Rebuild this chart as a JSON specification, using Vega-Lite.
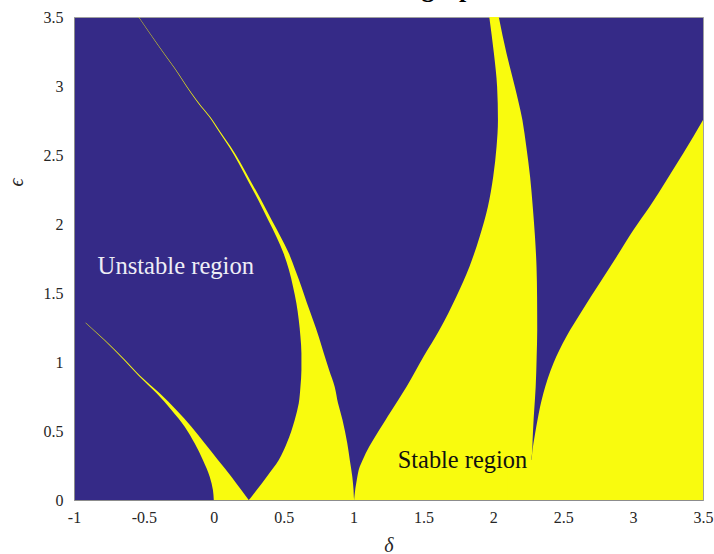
{
  "$schema": "https://vega.github.io/schema/vega-lite/v6.json",
  "width": 629,
  "height": 483,
  "autosize": {"type": "none"},
  "padding": {"left": 74, "top": 17, "right": 11, "bottom": 54},
  "background": "white",
  "title": {"text": "Mathieu graph", "font": "Liberation Serif", "fontSize": 26, "fontWeight": "bold", "color": "#000000", "frame": "group", "offset": 7.5, "dx": 16},
  "config": {
    "view": {"fill": "#352A87", "stroke": "#a0a0a0", "strokeWidth": 1},
    "axis": {"grid": false, "ticks": false, "domainColor": "#8c8c8c", "labelFont": "Liberation Serif", "labelFontSize": 16, "labelColor": "#262626", "titleFont": "Liberation Serif", "titleFontStyle": "italic", "titleFontWeight": "normal", "titleFontSize": 20, "titleColor": "#262626", "labelFlush": false, "labelOverlap": false}
  },
  "datasets": {
    "regions": [
      {"r": "A", "e": 0, "lo": 0.0, "hi": 0.25},
      {"r": "A", "e": 0.072, "lo": -0.006, "hi": 0.197},
      {"r": "A", "e": 0.169, "lo": -0.029, "hi": 0.126},
      {"r": "A", "e": 0.29, "lo": -0.078, "hi": 0.03},
      {"r": "A", "e": 0.411, "lo": -0.137, "hi": -0.065},
      {"r": "A", "e": 0.531, "lo": -0.208, "hi": -0.16},
      {"r": "A", "e": 0.652, "lo": -0.303, "hi": -0.268},
      {"r": "A", "e": 0.773, "lo": -0.409, "hi": -0.387},
      {"r": "A", "e": 0.899, "lo": -0.536, "hi": -0.525},
      {"r": "A", "e": 1.014, "lo": -0.643, "hi": -0.634},
      {"r": "A", "e": 1.159, "lo": -0.785, "hi": -0.779},
      {"r": "A", "e": 1.285, "lo": -0.919, "hi": -0.915},
      {"r": "B", "e": 0, "lo": 0.25, "hi": 1.004},
      {"r": "B", "e": 0.024, "lo": 0.27, "hi": 1.002},
      {"r": "B", "e": 0.072, "lo": 0.307, "hi": 1.0},
      {"r": "B", "e": 0.169, "lo": 0.379, "hi": 0.991},
      {"r": "B", "e": 0.29, "lo": 0.465, "hi": 0.973},
      {"r": "B", "e": 0.411, "lo": 0.522, "hi": 0.955},
      {"r": "B", "e": 0.58, "lo": 0.579, "hi": 0.921},
      {"r": "B", "e": 0.701, "lo": 0.608, "hi": 0.889},
      {"r": "B", "e": 0.821, "lo": 0.62, "hi": 0.865},
      {"r": "B", "e": 0.942, "lo": 0.627, "hi": 0.825},
      {"r": "B", "e": 1.063, "lo": 0.627, "hi": 0.787},
      {"r": "B", "e": 1.183, "lo": 0.62, "hi": 0.751},
      {"r": "B", "e": 1.304, "lo": 0.608, "hi": 0.71},
      {"r": "B", "e": 1.425, "lo": 0.591, "hi": 0.667},
      {"r": "B", "e": 1.546, "lo": 0.567, "hi": 0.627},
      {"r": "B", "e": 1.667, "lo": 0.538, "hi": 0.583},
      {"r": "B", "e": 1.788, "lo": 0.499, "hi": 0.537},
      {"r": "B", "e": 1.908, "lo": 0.448, "hi": 0.478},
      {"r": "B", "e": 2.029, "lo": 0.389, "hi": 0.414},
      {"r": "B", "e": 2.174, "lo": 0.318, "hi": 0.339},
      {"r": "B", "e": 2.307, "lo": 0.248, "hi": 0.266},
      {"r": "B", "e": 2.441, "lo": 0.178, "hi": 0.193},
      {"r": "B", "e": 2.562, "lo": 0.108, "hi": 0.12},
      {"r": "B", "e": 2.669, "lo": 0.0376, "hi": 0.0469},
      {"r": "B", "e": 2.777, "lo": -0.0333, "hi": -0.0254},
      {"r": "B", "e": 2.875, "lo": -0.1117, "hi": -0.1045},
      {"r": "B", "e": 2.947, "lo": -0.1632, "hi": -0.1575},
      {"r": "B", "e": 3.128, "lo": -0.282, "hi": -0.2777},
      {"r": "B", "e": 3.297, "lo": -0.4012, "hi": -0.3976},
      {"r": "B", "e": 3.5, "lo": -0.539, "hi": -0.536},
      {"r": "C", "e": 0, "lo": 1.004, "hi": 2.272},
      {"r": "C", "e": 0.024, "lo": 1.006, "hi": 2.272},
      {"r": "C", "e": 0.145, "lo": 1.023, "hi": 2.272},
      {"r": "C", "e": 0.241, "lo": 1.044, "hi": 2.272},
      {"r": "C", "e": 0.29, "lo": 1.065, "hi": 2.272},
      {"r": "C", "e": 0.339, "lo": 1.087, "hi": 2.277},
      {"r": "C", "e": 0.435, "lo": 1.14, "hi": 2.281},
      {"r": "C", "e": 0.58, "lo": 1.229, "hi": 2.288},
      {"r": "C", "e": 0.628, "lo": 1.259, "hi": 2.291},
      {"r": "C", "e": 0.821, "lo": 1.379, "hi": 2.303},
      {"r": "C", "e": 1.038, "lo": 1.5, "hi": 2.31},
      {"r": "C", "e": 1.232, "lo": 1.614, "hi": 2.314},
      {"r": "C", "e": 1.473, "lo": 1.735, "hi": 2.313},
      {"r": "C", "e": 1.691, "lo": 1.829, "hi": 2.309},
      {"r": "C", "e": 1.908, "lo": 1.902, "hi": 2.298},
      {"r": "C", "e": 2.125, "lo": 1.961, "hi": 2.282},
      {"r": "C", "e": 2.343, "lo": 1.999, "hi": 2.263},
      {"r": "C", "e": 2.56, "lo": 2.023, "hi": 2.236},
      {"r": "C", "e": 2.754, "lo": 2.033, "hi": 2.208},
      {"r": "C", "e": 2.995, "lo": 2.027, "hi": 2.154},
      {"r": "C", "e": 3.237, "lo": 2.004, "hi": 2.094},
      {"r": "C", "e": 3.5, "lo": 1.971, "hi": 2.039},
      {"r": "D", "e": 0, "lo": 2.1, "hi": 3.5},
      {"r": "D", "e": 0.28, "lo": 2.1, "hi": 3.5},
      {"r": "D", "e": 0.29, "lo": 2.272, "hi": 3.5},
      {"r": "D", "e": 0.362, "lo": 2.28, "hi": 3.5},
      {"r": "D", "e": 0.471, "lo": 2.297, "hi": 3.5},
      {"r": "D", "e": 0.58, "lo": 2.316, "hi": 3.5},
      {"r": "D", "e": 0.773, "lo": 2.358, "hi": 3.5},
      {"r": "D", "e": 0.991, "lo": 2.43, "hi": 3.5},
      {"r": "D", "e": 1.183, "lo": 2.522, "hi": 3.5},
      {"r": "D", "e": 1.377, "lo": 2.638, "hi": 3.5},
      {"r": "D", "e": 1.57, "lo": 2.76, "hi": 3.5},
      {"r": "D", "e": 1.763, "lo": 2.882, "hi": 3.5},
      {"r": "D", "e": 1.957, "lo": 3.002, "hi": 3.5},
      {"r": "D", "e": 2.125, "lo": 3.118, "hi": 3.5},
      {"r": "D", "e": 2.319, "lo": 3.24, "hi": 3.5},
      {"r": "D", "e": 2.512, "lo": 3.359, "hi": 3.5},
      {"r": "D", "e": 2.754, "lo": 3.5, "hi": 3.5}
    ],
    "labels": [
      {"kind": "unstable", "label": "Unstable region", "d": -0.831, "e": 1.638},
      {"kind": "stable", "label": "Stable region", "d": 1.316, "e": 0.23}
    ]
  },
  "layer": [
    {
      "data": {"name": "regions"},
      "mark": {"type": "area", "orient": "horizontal", "interpolate": "monotone", "fill": "#F9FB0E", "fillOpacity": 1},
      "encoding": {
        "y": {"field": "e", "type": "quantitative", "scale": {"domain": [0, 3.5], "nice": false, "zero": false},
              "axis": {"values": [0, 0.5, 1, 1.5, 2, 2.5, 3, 3.5], "labelExpr": "datum.value + ''", "labelPadding": 11, "title": "ϵ", "titleX": -58, "titleY": 165, "titleAngle": -90, "titleBaseline": "middle"}},
        "x": {"field": "lo", "type": "quantitative", "scale": {"domain": [-1, 3.5], "nice": false, "zero": false},
              "axis": {"values": [-1, -0.5, 0, 0.5, 1, 1.5, 2, 2.5, 3, 3.5], "labelExpr": "datum.value + ''", "labelPadding": 9, "title": "δ", "titleY": 51, "titleBaseline": "alphabetic"}},
        "x2": {"field": "hi"},
        "detail": {"field": "r", "type": "nominal"}
      }
    },
    {
      "data": {"name": "labels"},
      "transform": [{"filter": "datum.kind == 'unstable'"}],
      "mark": {"type": "text", "font": "Liberation Serif", "fontSize": 24.6, "align": "left", "baseline": "alphabetic", "color": "#EEEEF6"},
      "encoding": {
        "x": {"field": "d", "type": "quantitative"},
        "y": {"field": "e", "type": "quantitative"},
        "text": {"field": "label"}
      }
    },
    {
      "data": {"name": "labels"},
      "transform": [{"filter": "datum.kind == 'stable'"}],
      "mark": {"type": "text", "font": "Liberation Serif", "fontSize": 24.4, "align": "left", "baseline": "alphabetic", "color": "#111111"},
      "encoding": {
        "x": {"field": "d", "type": "quantitative"},
        "y": {"field": "e", "type": "quantitative"},
        "text": {"field": "label"}
      }
    }
  ]
}
